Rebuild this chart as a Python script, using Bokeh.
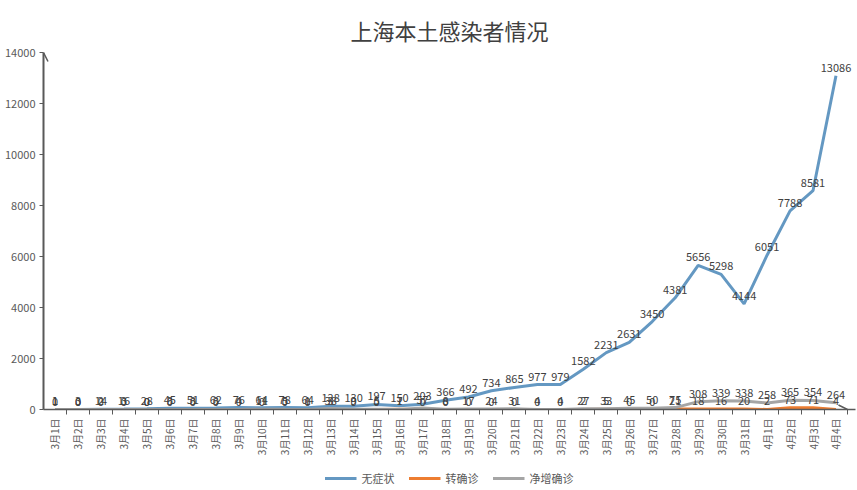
import math
from bokeh.plotting import figure
from bokeh.layouts import column
from bokeh.models import (ColumnDataSource, FixedTicker, Legend, LegendItem,
                          Arrow, OpenHead, Range1d)
from bokeh.core.properties import value
from bokeh.embed import file_html
from bokeh.resources import INLINE

dates = ["3月1日", "3月2日", "3月3日", "3月4日", "3月5日", "3月6日", "3月7日",
         "3月8日", "3月9日", "3月10日", "3月11日", "3月12日", "3月13日", "3月14日",
         "3月15日", "3月16日", "3月17日", "3月18日", "3月19日", "3月20日", "3月21日",
         "3月22日", "3月23日", "3月24日", "3月25日", "3月26日", "3月27日", "3月28日",
         "3月29日", "3月30日", "3月31日", "4月1日", "4月2日", "4月3日", "4月4日"]

asymptomatic = [1, 3, 14, 16, 28, 45, 51, 62, 76, 64, 78, 64, 128, 130, 197, 150,
                203, 366, 492, 734, 865, 977, 979, 1582, 2231, 2631, 3450, 4381,
                5656, 5298, 4144, 6051, 7788, 8581, 13086]
converted = [0, 0, 0, 0, 0, 0, 0, 0, 0, 0, 0, 0, 3, 0, 0, 7, 0, 0, 0, 0, 0, 4, 4,
             2, 5, 0, 0, 21, 18, 16, 20, 2, 73, 71, 4]
net_confirmed = [1, 0, 2, 3, 0, 3, 3, 3, 4, 11, 5, 1, 38, 9, 5, 1, 57, 8, 17, 24,
                 31, 0, 0, 27, 33, 45, 50, 75, 308, 339, 338, 258, 365, 354, 264]

series_names = ["无症状", "转确诊", "净增确诊"]
y_ticks = [0, 2000, 4000, 6000, 8000, 10000, 12000, 14000]

FONT = "Noto Sans CJK SC"
AX = "#595959"
colors = ["#6498c2", "#ed7d31", "#a5a5a5"]
all_series = [asymptomatic, converted, net_confirmed]

xs = list(range(len(dates)))
n = len(dates)

p = figure(width=857, height=465, x_range=Range1d(-0.5, n - 0.15),
           y_range=Range1d(0, 14000), output_backend="svg", toolbar_location=None,
           min_border_left=43, min_border_right=2, min_border_top=52,
           min_border_bottom=56)

p.title.text = "上海本土感染者情况"
p.title.align = "center"
p.title.text_font = FONT
p.title.text_font_size = "22px"
p.title.text_font_style = "normal"
p.title.text_color = "#404040"
p.title.standoff = 14
p.title.offset = -21

p.xgrid.visible = False
p.ygrid.visible = False
p.outline_line_color = None
p.background_fill_color = "white"

for vals, col in zip(all_series, colors):
    src = ColumnDataSource(dict(x=xs, y=vals))
    p.line("x", "y", source=src, line_color=col, line_width=3)

for vals in [net_confirmed, converted, asymptomatic]:
    src = ColumnDataSource(dict(x=xs, y=vals, t=[str(v) for v in vals]))
    p.text("x", "y", text="t", source=src, text_align="center", text_baseline="bottom",
           y_offset=-4, text_font=value(FONT), text_font_size="11px", text_color="#404040")

# x axis
xa = p.xaxis[0]
xa.ticker = FixedTicker(ticks=xs, minor_ticks=[i + 0.5 for i in xs])
xa.major_label_overrides = {i: d for i, d in enumerate(dates)}
xa.major_label_orientation = math.pi / 2
xa.major_tick_out = 0
xa.major_tick_in = 0
xa.minor_tick_out = 5
xa.minor_tick_in = 0
xa.minor_tick_line_color = AX
xa.axis_line_color = AX
xa.axis_line_width = 1.5
xa.major_label_text_font = FONT
xa.major_label_text_font_size = "10px"
xa.major_label_text_color = AX
xa.major_label_standoff = 4

ya = p.yaxis[0]
ya.ticker = FixedTicker(ticks=y_ticks, minor_ticks=[])
ya.major_tick_out = 4
ya.major_tick_in = 0
ya.major_tick_line_color = AX
ya.axis_line_color = AX
ya.axis_line_width = 2
ya.major_label_text_font = FONT
ya.major_label_text_font_size = "11px"
ya.major_label_text_color = AX
ya.major_label_standoff = 4

p.add_layout(Arrow(end=OpenHead(size=9, line_color=AX, line_width=1.5),
                   x_start=-0.5, y_start=0, x_end=-0.5, y_end=14000, line_alpha=0))
p.add_layout(Arrow(end=OpenHead(size=9, line_color=AX, line_width=1.5),
                   x_start=-0.5, y_start=0, x_end=n - 0.5, y_end=0, line_alpha=0))

# legend strip (series drawn out of view; only the legend is visible)
lg = figure(width=857, height=25, output_backend="svg", toolbar_location=None,
            min_border=0, x_range=Range1d(-3, -2), y_range=Range1d(0, 1))
lg.axis.visible = False
lg.grid.visible = False
lg.outline_line_color = None
items = []
for s, vals, col in zip(series_names, all_series, colors):
    r = lg.line(x=xs, y=vals, line_color=col, line_width=3)
    items.append(LegendItem(label=s, renderers=[r]))
legend = Legend(items=items, orientation="horizontal", location="center",
                border_line_color=None, background_fill_alpha=0, label_text_font=FONT,
                label_text_font_size="11px", label_text_color=AX, glyph_width=32,
                glyph_height=14, label_height=14, spacing=14, padding=0, margin=0)
lg.add_layout(legend, "center")

layout = column(p, lg, spacing=0)
open("out.html", "w").write(file_html(layout, INLINE))
